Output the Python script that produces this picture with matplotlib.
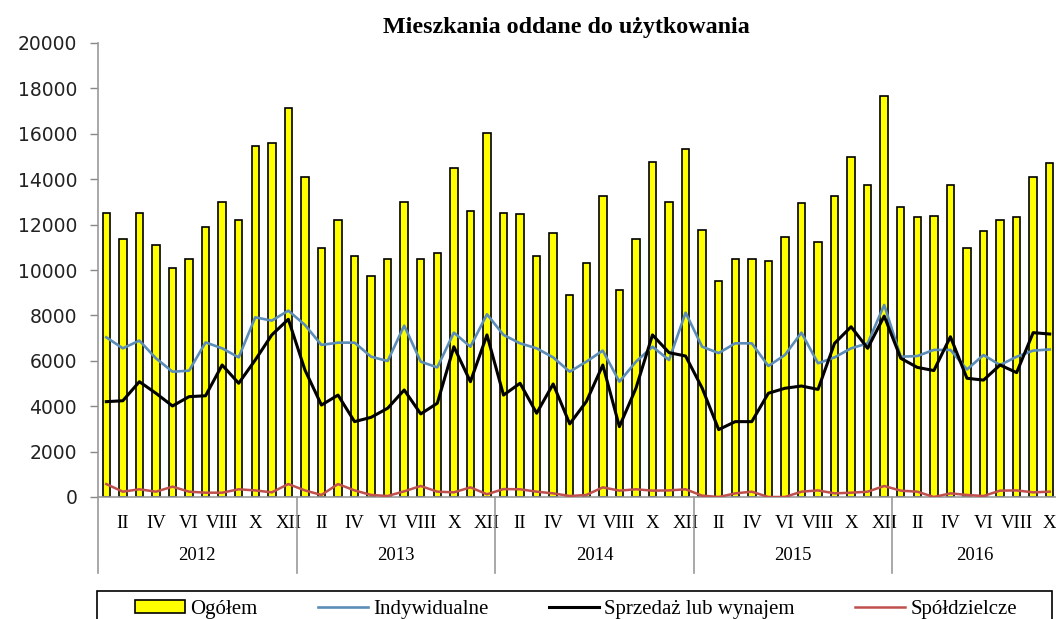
import matplotlib
matplotlib.use("Agg")
import matplotlib.pyplot as plt
import matplotlib.transforms as mtransforms
from matplotlib.patches import Rectangle
import numpy as np

years = ["2012", "2013", "2014", "2015", "2016"]
months = ["I", "II", "III", "IV", "V", "VI", "VII", "VIII", "IX", "X", "XI", "XII"]
months_per_year = [12, 12, 12, 12, 10]

ogolem = [12500, 11350, 12500, 11100, 10080, 10480, 11900, 13000, 12190, 15450, 15580, 17150,
          14100, 10950, 12190, 10620, 9740, 10480, 13000, 10470, 10730, 14490, 12590, 16050,
          12520, 12450, 10620, 11650, 8910, 10330, 13280, 9120, 11370, 14760, 13000, 15320,
          11760, 9530, 10470, 10470, 10410, 11440, 12940, 11230, 13280, 14960, 13740, 17680,
          12790, 12320, 12380, 13740, 10960, 11700, 12190, 12320, 14100, 14700]
indywidualne = [7035, 6550, 6890, 6110, 5520, 5565, 6810, 6550, 6150, 7915, 7770, 8210,
                7580, 6700, 6800, 6800, 6180, 5990, 7550, 5960, 5710, 7240, 6620, 8050,
                7140, 6770, 6550, 6150, 5520, 5960, 6450, 5080, 5960, 6620, 6035, 8120,
                6620, 6340, 6770, 6770, 5770, 6255, 7240, 5890, 6150, 6550, 6770, 8460,
                6180, 6210, 6480, 6480, 5620, 6255, 5815, 6180, 6450, 6500]
sprzedaz = [4200, 4240, 5080, 4570, 4010, 4420, 4460, 5815, 5010, 6035, 7140, 7830,
            5600, 4050, 4490, 3320, 3510, 3910, 4714, 3660, 4130, 6620, 5080, 7140,
            4490, 5010, 3690, 4980, 3220, 4200, 5815, 3100, 4790, 7140, 6360, 6210,
            4800, 2970, 3320, 3320, 4570, 4790, 4890, 4740, 6770, 7500, 6550, 7970,
            6110, 5710, 5570, 7060, 5230, 5150, 5815, 5480, 7240, 7180]
spoldzielcze = [570, 235, 340, 235, 455, 235, 190, 190, 340, 290, 205, 570,
                290, 90, 570, 290, 90, 45, 250, 485, 235, 205, 425, 120,
                350, 340, 235, 160, 45, 90, 425, 280, 340, 280, 290, 340,
                60, 0, 160, 235, 0, 0, 235, 290, 160, 190, 235, 485,
                280, 235, 0, 160, 90, 45, 280, 290, 205, 235]

W, H = 1056, 619
fig = plt.figure(figsize=(W / 100, H / 100), dpi=100)
ax = fig.add_axes([98 / W, (H - 497) / H, 960 / W, 454 / H])

n = len(ogolem)
x = np.arange(n)
h_bar = ax.bar(x, ogolem, width=0.45, color="#ffff00", edgecolor="black", linewidth=1.2,
               label="Ogółem", zorder=2)
h_ind, = ax.plot(x, indywidualne, color="#5b8db8", lw=1.9, label="Indywidualne", zorder=3)
h_spr, = ax.plot(x, sprzedaz, color="black", lw=2.2, label="Sprzedaż lub wynajem", zorder=4)
h_spo, = ax.plot(x, spoldzielcze, color="#c0504d", lw=1.8, label="Spółdzielcze", zorder=3)

ax.set_xlim(-0.5, n - 0.5)
ax.set_ylim(0, 20000)
ax.set_yticks(np.arange(0, 20001, 2000))
ax.tick_params(axis="y", length=6, width=1, color="#888888", pad=9,
               labelsize=13.5, labelcolor="#222222")
for lab in ax.get_yticklabels():
    lab.set_fontfamily("DejaVu Sans")

# month labels (every second month)
labels_all = []
for y, m in zip(years, months_per_year):
    labels_all += months[:m]
tick_pos = [i for i in range(n) if i % 2 == 1]
ax.set_xticks(tick_pos)
ax.set_xticklabels([labels_all[i] for i in tick_pos], fontfamily="Liberation Serif",
                   fontsize=13.5)
ax.tick_params(axis="x", length=0, pad=13)

for s in ["top", "right"]:
    ax.spines[s].set_visible(False)
ax.spines["left"].set_color("#999999")
ax.spines["bottom"].set_color("#999999")
ax.spines["left"].set_linewidth(1.2)
ax.spines["bottom"].set_linewidth(1.2)

trans = mtransforms.blended_transform_factory(ax.transData, ax.transAxes)
start = 0
depth = -76 / 454
for y, m in zip(years, months_per_year):
    ax.plot([start - 0.5, start - 0.5], [0, depth], color="#999999", lw=1.2,
            transform=trans, clip_on=False)
    ax.text(start + m / 2 - 0.5, -58 / 454, y, transform=trans, ha="center", va="center",
            fontfamily="Liberation Serif", fontsize=13.5)
    start += m

fig.text(566 / W, 1 - 27 / H, "Mieszkania oddane do użytkowania", ha="center", va="center",
         fontfamily="Liberation Serif", fontweight="bold", fontsize=17.3)

# legend frame (extends past the bottom edge as in the reference)
fig.patches.append(Rectangle((97 / W, -0.05), (1052 - 97) / W, 0.05 + 1 - 591 / H,
                             transform=fig.transFigure, facecolor="white",
                             edgecolor="black", linewidth=1.2, zorder=0))
leg = fig.legend([h_bar, h_ind, h_spr, h_spo],
                 ["Ogółem", "Indywidualne", "Sprzedaż lub wynajem", "Spółdzielcze"],
                 loc="upper center", bbox_to_anchor=(576 / W, 1 - 596 / H),
                 ncol=4, frameon=False,
                 prop={"family": "Liberation Serif", "size": 15}, handlelength=2.4,
                 handleheight=0.6, handletextpad=0.25, columnspacing=2.9,
                 borderpad=0.2, borderaxespad=0)

fig.savefig("out.png", dpi=100)
